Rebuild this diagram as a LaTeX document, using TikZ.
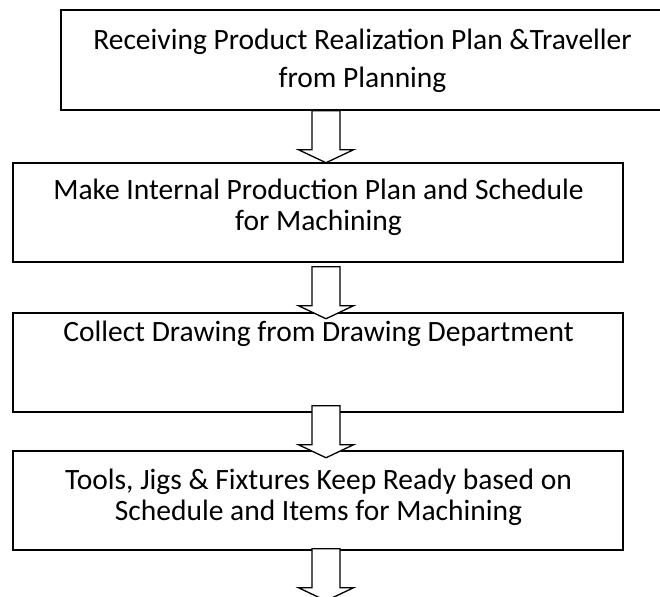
\documentclass[tikz,border=0pt]{standalone}
\usepackage{fontspec}
\setmainfont{Carlito}
\usetikzlibrary{calc}
\begin{document}
\begin{tikzpicture}[x=1pt,y=-1pt,
  box/.style={draw=black,line width=1.5pt,fill=white,inner sep=0pt},
  boxtext/.style={align=center,inner sep=0pt,font=\fontsize{29.5}{#1}\selectfont},
  blockarrow/.style={draw=black,line width=1.3pt,fill=white,line join=miter}]
\clip (0,0) rectangle (660,596);
\fill[white] (0,0) rectangle (660,596);
% boxes
\node[box,minimum width=603pt,minimum height=100pt] (b1) at (362.5,60) {};
\node[box,minimum width=610pt,minimum height=99pt] (b2) at (318,212.5) {};
\node[box,minimum width=610pt,minimum height=99pt] (b3) at (318,362.5) {};
\node[box,minimum width=610pt,minimum height=99pt] (b4) at (318,500.5) {};
% texts
\node[boxtext=38] (t1) at (362.5,61) {Receiving Product Realization Plan \&Traveller\\from Planning};
\node[boxtext=31] (t2) at (318.5,207.5) {Make Internal Production Plan and Schedule\\for Machining};
\node[boxtext=31] (t3) at (318.5,334) {Collect Drawing from Drawing Department};
\node[boxtext=31] (t4) at (318.5,497.5) {Tools, Jigs \& Fixtures Keep Ready based on\\Schedule and Items for Machining};
% block arrows
\newcommand\myblockarrow[1]{%
  \draw[blockarrow] ($(#1)+(-14,0)$) -- ++(0,39) -- ++(-13.5,0) -- ($(#1)+(0,52)$)
    -- ($(#1)+(27.5,39)$) -- ++(-13.5,0) -- ($(#1)+(14,0)$) -- cycle;}
\coordinate (a1) at ($(b1.south)+(-36.5,0)$);
\coordinate (a2) at ($(b2.south)+(8,4)$);
\coordinate (a3) at ($(b3.south)+(8,-7)$);
\coordinate (a4) at ($(b4.south)+(8,-2)$);
\myblockarrow{a1}
\myblockarrow{a2}
\myblockarrow{a3}
\myblockarrow{a4}
\end{tikzpicture}
\end{document}
